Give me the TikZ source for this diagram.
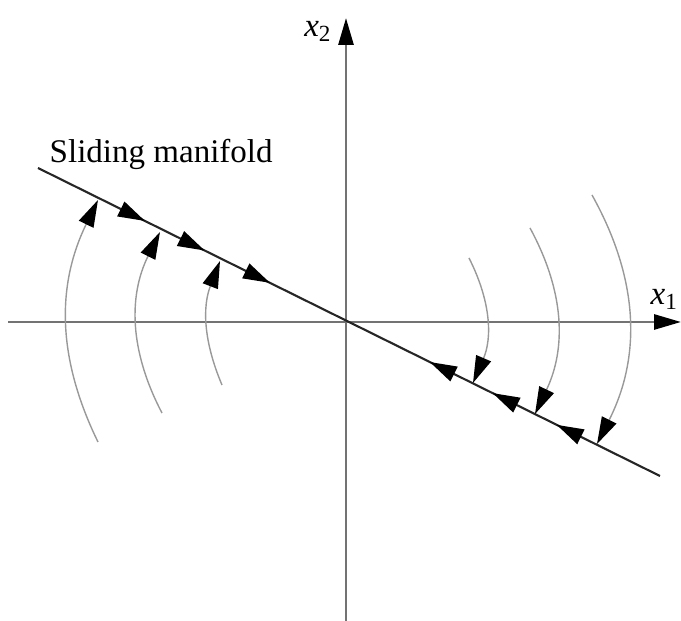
\documentclass[tikz,border=0pt]{standalone}
\usepackage{fontspec}
\setmainfont{Liberation Serif}
\usetikzlibrary{arrows.meta,decorations.markings}

\definecolor{axisgray}{gray}{0.45}
\definecolor{arcgray}{gray}{0.6}

\begin{document}
\begin{tikzpicture}[
        axis/.style={draw=axisgray, line width=0.8pt, -{Triangle[length=0.27cm,width=0.15cm,color=black]}},
        manifold/.style={draw=black!85, line width=0.6pt},
        flow/.style={draw=arcgray, line width=0.4pt, -{Triangle[length=0.27cm,width=0.16cm,color=black]}},
        lbl/.style={font=\fontsize{9.4pt}{11pt}\selectfont, inner sep=0pt}
    ]
        \useasboundingbox (-3.46,-2.99) rectangle (3.35,3.22);
        % axes
        \coordinate (xs) at (-3.38,0);
        \coordinate (xe) at (3.35,0);
        \coordinate (ys) at (0,-2.99);
        \coordinate (ye) at (0,3.04);
        \draw[axis] (xs) -- (xe);
        \draw[axis] (ys) -- (ye);
        \node[lbl, anchor=base west] (x1) at (3.04,0.17) {\textit{x}\textsubscript{1}};
        \node[lbl, anchor=base east] (x2) at (-0.13,2.85) {\textit{x}\textsubscript{2}};
        % sliding manifold
        \coordinate (ms) at (-3.08,1.54);
        \coordinate (me) at (3.14,-1.54);
        \draw[manifold, postaction={decorate}, decoration={markings,
            mark=at position 0.172 with {\arrow{Triangle[length=0.27cm,width=0.16cm,color=black]}},
            mark=at position 0.268 with {\arrow{Triangle[length=0.27cm,width=0.16cm,color=black]}},
            mark=at position 0.373 with {\arrow{Triangle[length=0.27cm,width=0.16cm,color=black]}},
            mark=at position 0.630 with {\arrowreversed{Triangle[length=0.27cm,width=0.16cm,color=black]}},
            mark=at position 0.731 with {\arrowreversed{Triangle[length=0.27cm,width=0.16cm,color=black]}},
            mark=at position 0.834 with {\arrowreversed{Triangle[length=0.27cm,width=0.16cm,color=black]}}}]
            (ms) -- (me);
        \node[lbl, anchor=base west] (slide) at (-2.97,1.59) {Sliding manifold};
        % trajectories, left half
        \coordinate (l1a) at (-2.48,-1.20);
        \coordinate (l1b) at (-2.48,1.22);
        \coordinate (l2a) at (-1.84,-0.91);
        \coordinate (l2b) at (-1.86,0.90);
        \coordinate (l3a) at (-1.24,-0.63);
        \coordinate (l3b) at (-1.26,0.61);
        \draw[flow] (l1a) to[bend left=26] (l1b);
        \draw[flow] (l2a) to[bend left=27] (l2b);
        \draw[flow] (l3a) to[bend left=22] (l3b);
        % trajectories, right half
        \coordinate (r1a) at (1.23,0.64);
        \coordinate (r1b) at (1.27,-0.61);
        \coordinate (r2a) at (1.84,0.94);
        \coordinate (r2b) at (1.89,-0.92);
        \coordinate (r3a) at (2.46,1.27);
        \coordinate (r3b) at (2.51,-1.22);
        \draw[flow] (r1a) to[bend left=25] (r1b);
        \draw[flow] (r2a) to[bend left=27] (r2b);
        \draw[flow] (r3a) to[bend left=28] (r3b);
    \end{tikzpicture}
\end{document}
